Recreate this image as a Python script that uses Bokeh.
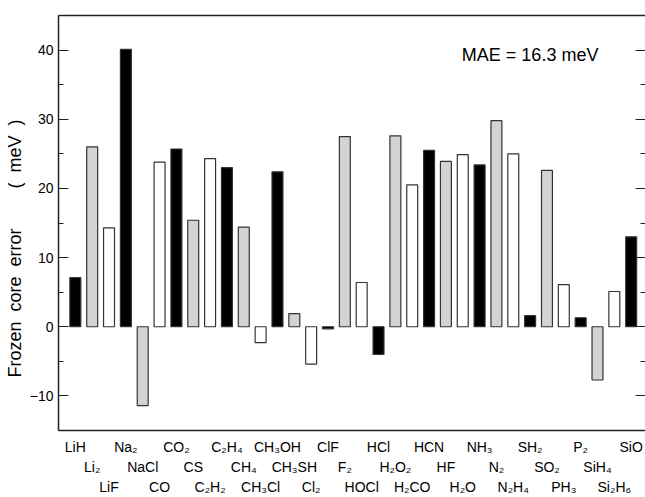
from bokeh.plotting import figure
from bokeh.models import (ColumnDataSource, Range1d, LinearAxis, FixedTicker,
                          SingleIntervalTicker, Label, Title)
from bokeh.embed import file_html
from bokeh.resources import INLINE

# ---------------- data ----------------
molecules = ["LiH", "Li₂", "LiF", "Na₂", "NaCl", "CO", "CO₂", "CS", "C₂H₂", "C₂H₄",
             "CH₄", "CH₃Cl", "CH₃OH", "CH₃SH", "Cl₂", "ClF", "F₂", "HOCl", "HCl",
             "H₂O₂", "H₂CO", "HCN", "HF", "H₂O", "NH₃", "N₂", "N₂H₄", "SH₂", "SO₂",
             "PH₃", "P₂", "SiH₄", "Si₂H₆", "SiO"]
errors = [7.1, 26.0, 14.3, 40.1, -11.4, 23.8, 25.7, 15.4, 24.3, 23.0,
          14.4, -2.3, 22.4, 1.9, -5.4, -0.3, 27.5, 6.4, -4.0,
          27.6, 20.5, 25.5, 23.9, 24.9, 23.4, 29.8, 25.0, 1.6, 22.6,
          6.1, 1.3, -7.7, 5.1, 13.0]
y_ticks = [-10, 0, 10, 20, 30, 40]
mae_text = "MAE = 16.3 meV"
NB = "\u00a0"
y_label = ("Frozen" + NB * 2 + "core" + NB * 2 + "error" + NB * 8 + "(" + NB * 2
           + "meV" + NB * 2 + ")")

# ---------------- styling ----------------
FONT = "Liberation Sans"
fills = ["black", "#d3d3d3", "white"]
n = len(molecules)
xs = list(range(1, n + 1))
src = ColumnDataSource(dict(x=xs, top=errors,
                            fill=[fills[i % 3] for i in range(n)]))

p = figure(width=645, height=497, x_range=Range1d(0, 34.85),
           y_range=Range1d(-15, 45), output_backend="svg",
           toolbar_location=None, x_axis_location=None, y_axis_location=None,
           min_border_left=55, min_border_right=0, min_border_top=15,
           min_border_bottom=0, outline_line_color=None,
           background_fill_color="white", border_fill_color="white")
p.xgrid.visible = False
p.ygrid.visible = False

p.vbar(x="x", top="top", bottom=0, width=0.65, fill_color="fill",
       line_color="#333333", line_width=1.2, source=src)

AX_COLOR = "#222222"


def y_axis(show_labels):
    ax = LinearAxis(ticker=SingleIntervalTicker(interval=10, num_minor_ticks=2))
    ax.major_tick_in = 10
    ax.major_tick_out = 0
    ax.minor_tick_in = 5
    ax.minor_tick_out = 0
    ax.major_tick_line_color = AX_COLOR
    ax.minor_tick_line_color = AX_COLOR
    ax.major_tick_line_width = 1.2
    ax.minor_tick_line_width = 1.2
    if show_labels:
        ax.axis_line_color = AX_COLOR
        ax.axis_line_width = 1.5
        ax.major_label_text_font = FONT
        ax.major_label_text_font_size = "14px"
        ax.major_label_text_color = "black"
        ax.major_label_standoff = 5
    else:
        ax.axis_line_color = None
        ax.major_label_overrides = {t: "" for t in y_ticks}
        ax.major_label_standoff = 0
    return ax


p.add_layout(y_axis(True), "left")
p.add_layout(y_axis(False), "right")

# rotated y-axis title, drawn in the left border, starting above the bottom
p.add_layout(Title(text=y_label, align="left", offset=53, standoff=4,
                   text_font=FONT, text_font_size="18px",
                   text_font_style="normal", text_color="black"), "left")

top_ax = LinearAxis(ticker=FixedTicker(ticks=[]))
top_ax.axis_line_color = AX_COLOR
top_ax.axis_line_width = 1.5
top_ax.major_label_standoff = 0
top_ax.major_tick_out = 0
top_ax.major_tick_in = 0
top_ax.minor_tick_out = 0
top_ax.minor_tick_in = 0
p.add_layout(top_ax, "above")

# three staggered rows of molecule labels
standoffs = [8, 1, 1]
for row in range(3):
    ticks = [xs[i] for i in range(n) if i % 3 == row]
    ax = LinearAxis(ticker=FixedTicker(ticks=ticks))
    ax.major_label_overrides = {xs[i]: molecules[i] for i in range(n) if i % 3 == row}
    ax.major_tick_out = 0
    ax.major_tick_in = 0
    ax.minor_tick_out = 0
    ax.minor_tick_in = 0
    ax.major_tick_line_color = None
    ax.minor_tick_line_color = None
    ax.major_label_text_font = FONT
    ax.major_label_text_font_size = "14px"
    ax.major_label_text_color = "black"
    ax.major_label_standoff = standoffs[row]
    if row == 0:
        ax.axis_line_color = AX_COLOR
        ax.axis_line_width = 1.5
    else:
        ax.axis_line_color = None
    p.add_layout(ax, "below")

p.add_layout(Label(x=28, y=39.3, text=mae_text, text_align="center",
                   text_baseline="middle", text_font=FONT,
                   text_font_size="18px", text_color="black"))

open("out.html", "w").write(file_html(p, INLINE))
